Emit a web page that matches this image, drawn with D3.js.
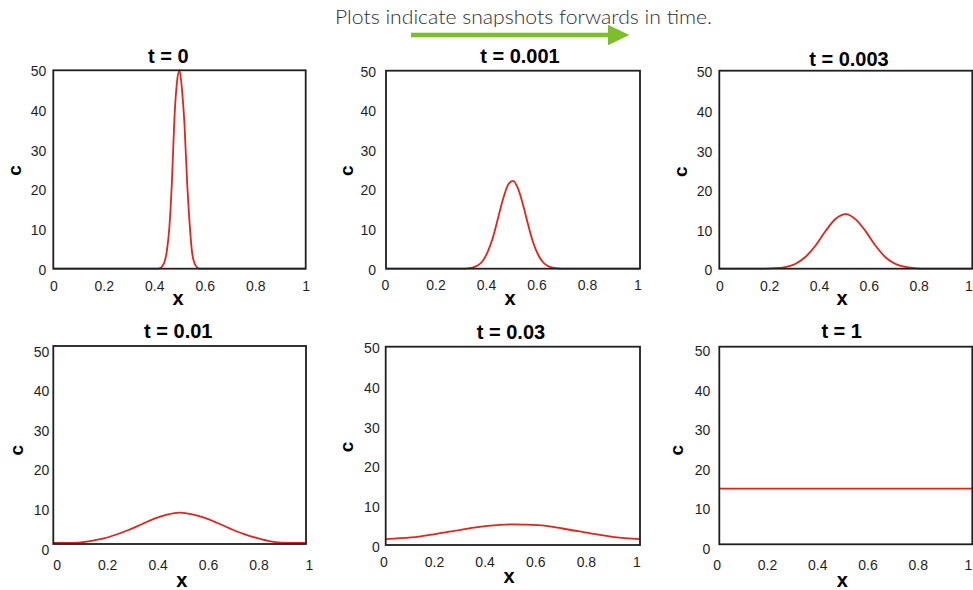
<!DOCTYPE html>
<html>
<head>
<meta charset="utf-8">
<script src="https://cdn.jsdelivr.net/npm/d3@7"></script>
<style>
  body { margin: 0; background: #fff; }
  svg { display: block; }
</style>
</head>
<body>
<svg id="chart" width="973" height="590"></svg>
<script>
// ---- data ----
const caption = "Plots indicate snapshots forwards in time.";
const titles = ["t = 0", "t = 0.001", "t = 0.003", "t = 0.01", "t = 0.03", "t = 1"];
const xTicks = [0, 0.2, 0.4, 0.6, 0.8, 1];
const yTicks = [0, 10, 20, 30, 40, 50];
const xLabel = "x";
const yLabel = "c";

const x_t0 = [0, 0.41, 0.42, 0.43, 0.44, 0.45, 0.46, 0.47, 0.48, 0.49, 0.50, 0.51, 0.52, 0.53, 0.54, 0.55, 0.56, 0.57, 0.58, 1];
const c_t0 = [0, 0, 0.1, 0.5, 1.6, 4.5, 10.5, 22, 38, 47, 50, 45, 36, 22, 11.5, 4, 1.3, 0.3, 0, 0];

const x_t0001 = [0, 0.30, 0.32, 0.34, 0.36, 0.38, 0.40, 0.42, 0.44, 0.46, 0.48, 0.50, 0.52, 0.54, 0.56, 0.58, 0.60, 0.62, 0.64, 0.66, 0.68, 0.70, 1];
const c_t0001 = [0, 0, 0.08, 0.28, 0.8, 1.9, 4.2, 7.7, 12.5, 17.4, 21.1, 22.2, 20.2, 16.0, 11.0, 6.5, 3.4, 1.5, 0.6, 0.2, 0.05, 0, 0];

const x_t0003 = [0, 0.18, 0.22, 0.26, 0.30, 0.34, 0.38, 0.42, 0.46, 0.50, 0.54, 0.58, 0.62, 0.66, 0.70, 0.74, 0.78, 0.82, 1];
const c_t0003 = [0, 0.03, 0.12, 0.42, 1.2, 2.95, 5.8, 9.5, 12.6, 13.8, 12.4, 9.3, 5.6, 2.7, 1.1, 0.37, 0.1, 0.02, 0];

const x_t001 = [0, 0.05, 0.10, 0.15, 0.20, 0.25, 0.30, 0.35, 0.40, 0.45, 0.50, 0.55, 0.60, 0.65, 0.70, 0.75, 0.80, 0.85, 0.90, 0.95, 1];
const c_t001 = [0.3, 0.3, 0.35, 0.8, 1.4, 2.4, 3.6, 5.0, 6.4, 7.4, 7.9, 7.5, 6.6, 5.3, 3.9, 2.6, 1.6, 0.8, 0.35, 0.3, 0.3];

const x_t003 = [0, 0.1, 0.2, 0.3, 0.4, 0.5, 0.6, 0.7, 0.8, 0.9, 1];
const c_t003 = [1.5, 1.9, 2.8, 3.9, 4.8, 5.2, 5.0, 4.1, 3.0, 2.0, 1.5];

const x_t1 = [0, 1];
const c_t1 = [14.1, 14.1];

const seriesX = [x_t0, x_t0001, x_t0003, x_t001, x_t003, x_t1];
const seriesC = [c_t0, c_t0001, c_t0003, c_t001, c_t003, c_t1];

// ---- layout of the six panels ----
// box: plot frame; title/xl/yl: label anchors; ty: y-tick label offset;
// tg: gap between y-tick labels and frame; xr: x-tick label span; xb: x-tick baseline
const layout = [
  { box: [53.3, 305.7, 70.3, 268.7],  title: [168.3, 63],  xl: [178, 305],   yl: [20.7, 170.5],  ty: 1,   tg: 7,  xr: [53.3, 305.7], xb: 290.5 },
  { box: [386, 640, 70.7, 268.7],     title: [520, 62.5],  xl: [510, 305],   yl: [352.7, 170.7], ty: 1,   tg: 10, xr: [385, 637.5],  xb: 290 },
  { box: [719.3, 972.3, 70.7, 268.7], title: [849, 65.5],  xl: [842, 305],   yl: [687.3, 171.7], ty: 1.7, tg: 7,  xr: [719.3, 968.5], xb: 290.7 },
  { box: [53.3, 306, 346, 544],       title: [178.3, 338], xl: [181.7, 586.7], yl: [23.3, 450.3], ty: 5.7, tg: 4,  xr: [56.7, 309],   xb: 570 },
  { box: [385.7, 640, 346.7, 545],    title: [511, 339],   xl: [509, 582.7], yl: [352.7, 447],   ty: 1.7, tg: 6,  xr: [383.3, 636.5], xb: 566.7 },
  { box: [719.3, 972.3, 346.7, 544.3], title: [841.7, 338], xl: [842.3, 586.7], yl: [683.3, 450.3], ty: 4.3, tg: 9, xr: [716.7, 968], xb: 570 }
];

const svg = d3.select("#chart");
const font = "'Liberation Sans', Arial, Helvetica, sans-serif";
const ink = "#1f1f1f";
const lineRed = "#e1251b";

// ---- caption and arrow ----
svg.append("text")
  .attr("x", 335).attr("y", 24)
  .attr("textLength", 377).attr("lengthAdjust", "spacingAndGlyphs")
  .style("font-family", "Lato, 'Open Sans', sans-serif")
  .style("font-weight", 300)
  .style("font-size", "19px")
  .attr("fill", "#2e2e2e")
  .text(caption);

const green = "#7cbf2a";
svg.append("rect").attr("x", 411).attr("y", 32.7).attr("width", 198).attr("height", 4.6).attr("fill", green);
svg.append("path").attr("d", "M608,24.7 L629.3,35 L608,45.3 Z").attr("fill", green);

// ---- panels ----
layout.forEach((L, i) => {
  const [x0, x1, y0, y1] = L.box;
  const x = d3.scaleLinear().domain([0, 1]).range([x0, x1]);
  const y = d3.scaleLinear().domain([0, 50]).range([y1, y0]);
  const g = svg.append("g");

  // y tick labels
  const yLab = d3.scaleLinear().domain([0, 50]).range([y1 + L.ty, y0 + L.ty]);
  const ya = g.append("g")
    .attr("transform", `translate(${x0 - L.tg},0)`)
    .call(d3.axisLeft(yLab).tickValues(yTicks).tickSize(0).tickPadding(0).tickFormat(d3.format("d")));
  ya.select(".domain").remove();
  ya.selectAll("text").style("font-family", font).style("font-size", "14px").attr("fill", ink);

  // x tick labels
  const xLab = d3.scaleLinear().domain([0, 1]).range(L.xr);
  const xa = g.append("g")
    .attr("transform", `translate(0,${L.xb})`)
    .call(d3.axisBottom(xLab).tickValues(xTicks).tickSize(0).tickPadding(0).tickFormat(d => d3.format("")(d)));
  xa.select(".domain").remove();
  xa.selectAll("text").attr("dy", 0).attr("y", 0)
    .style("font-family", font).style("font-size", "14px").attr("fill", ink);

  // curve
  const pts = seriesX[i].map((v, k) => [v, seriesC[i][k]]);
  g.append("path")
    .datum(pts)
    .attr("fill", "none")
    .attr("stroke", lineRed)
    .attr("stroke-width", 1.8)
    .attr("stroke-linejoin", "round")
    .attr("d", d3.line().x(d => x(d[0])).y(d => y(d[1])).curve(d3.curveMonotoneX));

  // frame
  g.append("rect")
    .attr("x", x0).attr("y", y0).attr("width", x1 - x0).attr("height", y1 - y0)
    .attr("fill", "none").attr("stroke", ink).attr("stroke-width", 1.8);

  // title
  g.append("text")
    .attr("x", L.title[0]).attr("y", L.title[1])
    .attr("text-anchor", "middle")
    .style("font-family", font).style("font-weight", "bold").style("font-size", "20px")
    .attr("fill", "#000")
    .text(titles[i]);

  // axis titles
  g.append("text")
    .attr("x", L.xl[0]).attr("y", L.xl[1])
    .attr("text-anchor", "middle")
    .style("font-family", font).style("font-weight", "bold").style("font-size", "20px")
    .attr("fill", "#000")
    .text(xLabel);

  g.append("text")
    .attr("transform", `translate(${L.yl[0]},${L.yl[1]}) rotate(-90)`)
    .attr("text-anchor", "middle")
    .style("font-family", font).style("font-weight", "bold").style("font-size", "19px")
    .attr("fill", "#000")
    .text(yLabel);
});
</script>
</body>
</html>
